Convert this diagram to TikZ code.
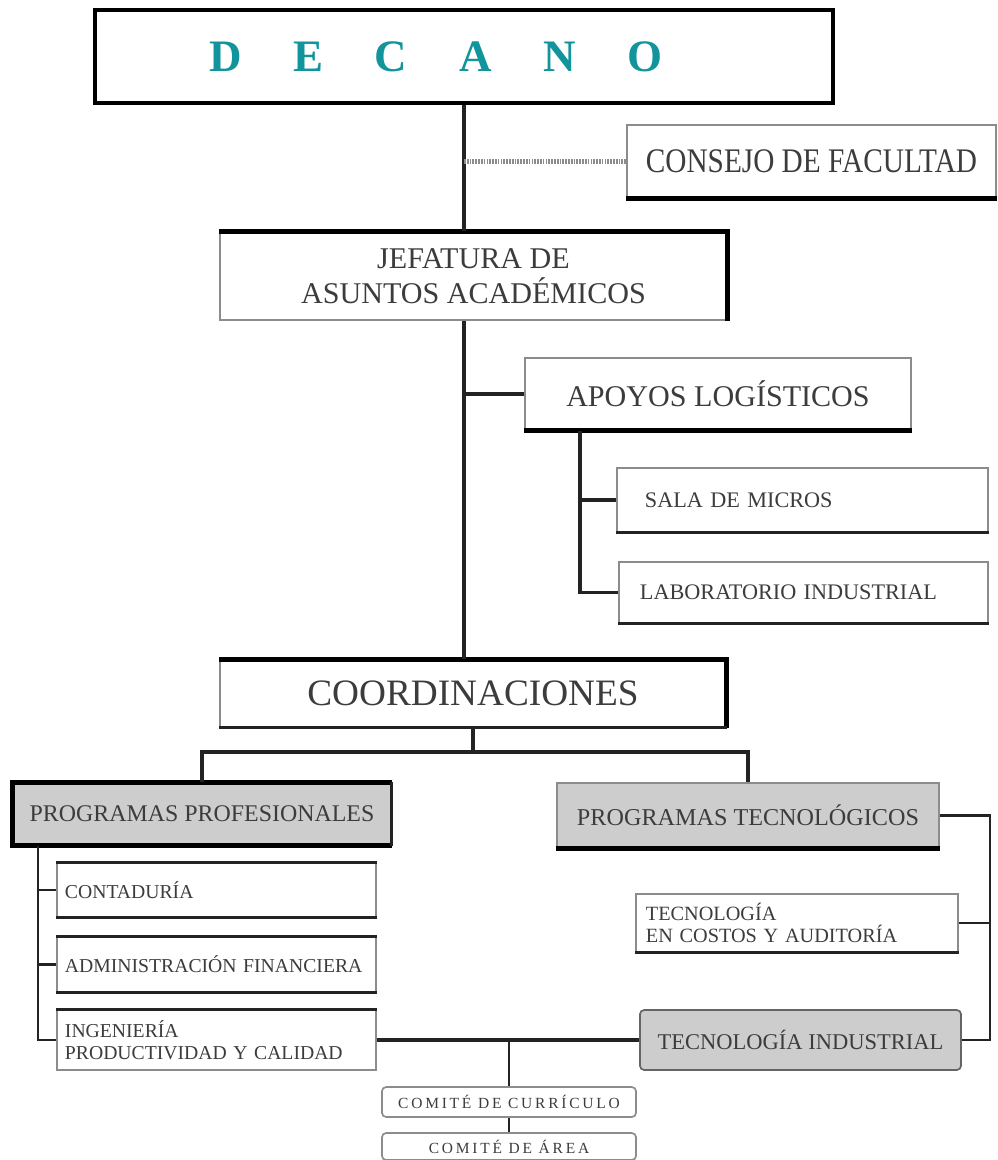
\documentclass[tikz,border=0pt]{standalone}
\usepackage{fontspec}
\setmainfont{Liberation Serif}
\newfontfamily\narrowserif[FakeStretch=0.85]{Liberation Serif}
\usepackage{tikz}
\definecolor{txt}{RGB}{60,60,60}
\definecolor{rim}{RGB}{140,140,140}
\definecolor{boxgray}{RGB}{205,205,205}
\definecolor{decteal}{RGB}{18,148,156}
\definecolor{wire}{RGB}{35,35,35}

\begin{document}
\begin{tikzpicture}[x=0.025cm, y=-0.025cm,
  box/.style={draw=rim, line width=1.2pt, fill=white, inner sep=0pt, text=txt, align=center},
  greybox/.style={box, fill=boxgray},
  heavy/.style={draw=black, line width=3.5pt},
  medium/.style={draw=wire, line width=2.2pt},
  link/.style={draw=wire, line width=2.4pt},
  thinlink/.style={draw=wire, line width=1.5pt},
  dotline/.style={draw=rim, line width=3.5pt, dash pattern=on 1.2pt off 0.8pt}]
\useasboundingbox (0,0) rectangle (998,1160);

% top levels
\node[box, draw=black, line width=3pt, minimum width=18.45cm, minimum height=2.325cm,
      font=\fontsize{32}{36}\selectfont\bfseries, text=decteal] (dec) at (464,56.5)
  {D\hspace{1.15em}E\hspace{1.15em}C\hspace{1.15em}A\hspace{1.15em}N\hspace{1.15em}O\hspace*{40pt}};
\node[box, minimum width=9.225cm, minimum height=1.825cm,
      font=\narrowserif\fontsize{24.5}{28}\selectfont] (cons) at (811.5,161.5) {CONSEJO DE FACULTAD};
\node[box, minimum width=12.675cm, minimum height=2.2cm,
      font=\fontsize{21.4}{25}\selectfont] (jef) at (473.5,276) {JEFATURA DE\\ASUNTOS ACADÉMICOS};
\node[box, minimum width=9.65cm, minimum height=1.8cm,
      font=\fontsize{21.4}{25}\selectfont] (apo) at (718,394) {APOYOS LOGÍSTICOS};
\node[box, text width=7.875cm, inner xsep=0.7cm, minimum height=1.6cm, align=left,
      font=\fontsize{15.8}{18}\selectfont] (sala) at (802.5,500) {SALA DE MICROS};
\node[box, text width=8.175cm, inner xsep=0.525cm, minimum height=1.525cm, align=left,
      font=\fontsize{15.8}{18}\selectfont] (lab) at (803.5,592.5) {LABORATORIO INDUSTRIAL};
\node[box, minimum width=12.65cm, minimum height=1.675cm,
      font=\fontsize{26.5}{30}\selectfont] (coord) at (473,693.5) {COORDINACIONES};

% programas
\node[greybox, minimum width=9.45cm, minimum height=1.55cm,
      font=\fontsize{17}{20}\selectfont] (prof) at (202,814) {PROGRAMAS PROFESIONALES};
\node[greybox, minimum width=9.55cm, minimum height=1.625cm,
      font=\fontsize{17.2}{20}\selectfont] (tec) at (748,815.5) {PROGRAMAS TECNOLÓGICOS};
\node[box, text width=7.575cm, inner xsep=0.2cm, minimum height=1.35cm, align=left,
      font=\fontsize{14}{16}\selectfont] (cont) at (216.5,890) {CONTADURÍA};
\node[box, text width=7.575cm, inner xsep=0.2cm, minimum height=1.375cm, align=left,
      font=\fontsize{14}{16}\selectfont] (adm) at (216.5,964.5) {ADMINISTRACIÓN FINANCIERA};
\node[box, text width=7.575cm, inner xsep=0.2cm, minimum height=1.5cm, align=left,
      font=\fontsize{14}{16}\selectfont] (ing) at (216.5,1040) {INGENIERÍA\\PRODUCTIVIDAD Y CALIDAD};
\node[box, text width=7.55cm, inner xsep=0.25cm, minimum height=1.45cm, align=left,
      font=\fontsize{14.4}{15.6}\selectfont] (cost) at (797,923) {TECNOLOGÍA\\EN COSTOS Y AUDITORÍA};
\node[greybox, draw=wire!70, rounded corners=3pt, minimum width=8.025cm, minimum height=1.5cm,
      font=\fontsize{16}{18}\selectfont] (tind) at (800.5,1040) {TECNOLOGÍA INDUSTRIAL};
\node[box, rounded corners=3pt, minimum width=6.35cm, minimum height=0.75cm,
      font=\fontsize{11}{12}\selectfont\addfontfeature{LetterSpace=18}] (curr) at (509,1102) {COMITÉ DE CURRÍCULO};
\node[box, rounded corners=3pt, minimum width=6.35cm, minimum height=0.675cm,
      font=\fontsize{11}{12}\selectfont\addfontfeature{LetterSpace=18}] (area) at (509,1146.5) {COMITÉ DE ÁREA};

% dark edges of the boxes
\draw[heavy] (jef.south east) -- (jef.north east) -- (jef.north west);
\draw[heavy] (cons.south west) -- (cons.south east);
\draw[heavy] (apo.south west) -- (apo.south east);
\draw[medium] (sala.south west) -- (sala.south east);
\draw[medium] (lab.south west) -- (lab.south east);
\draw[heavy] (coord.south east) -- (coord.north east) -- (coord.north west);
\draw[medium] (coord.south west) -- (coord.south east);
\draw[heavy] (prof.south east) -- (prof.south west) -- (prof.north west) -- (prof.north east);
\draw[medium] (prof.north east) -- (prof.south east);
\draw[heavy] (tec.south west) -- (tec.south east);
\draw[medium] (cont.north west) -- (cont.north east);
\draw[medium] (cont.south west) -- (cont.south east);
\draw[medium] (adm.north west) -- (adm.north east);
\draw[medium] (adm.south west) -- (adm.south east);
\draw[medium] (ing.north west) -- (ing.north east);
\draw[medium] (cost.south west) -- (cost.south east);

% connectors
\draw[link] (dec.south) -- (dec.south |- jef.north);
\draw[link] (dec.south |- jef.south) -- (dec.south |- coord.north);
\draw[dotline] (dec.south |- cons.west) -- (cons.west);
\draw[link] (dec.south |- apo.west) -- (apo.west);
\coordinate (apox) at ([xshift=1.4cm]apo.south west);
\draw[link] (apox) |- (lab.west);
\draw[link] (apox |- sala.west) -- (sala.west);
\coordinate (cj) at (468,752);
\draw[link] (coord.south) -- (coord.south |- cj);
\draw[link] (prof.north) -- (prof.north |- cj) -- (tec.north |- cj) -- (tec.north);
\coordinate (ls) at (38,0);
\draw[thinlink] (ls |- prof.south) |- (ing.west);
\draw[thinlink] (ls |- cont.west) -- (cont.west);
\draw[thinlink] (ls |- adm.west) -- (adm.west);
\coordinate (rs) at (990,0);
\draw[thinlink] (tec.east) -| (rs |- tind.east) -- (tind.east);
\draw[thinlink] (rs |- cost.east) -- (cost.east);
\draw[link] (ing.east) -- (tind.west);
\draw[thinlink] (ing.east -| curr.north) -- (curr.north);
\draw[thinlink] (curr.south) -- (area.north);
\end{tikzpicture}
\end{document}
